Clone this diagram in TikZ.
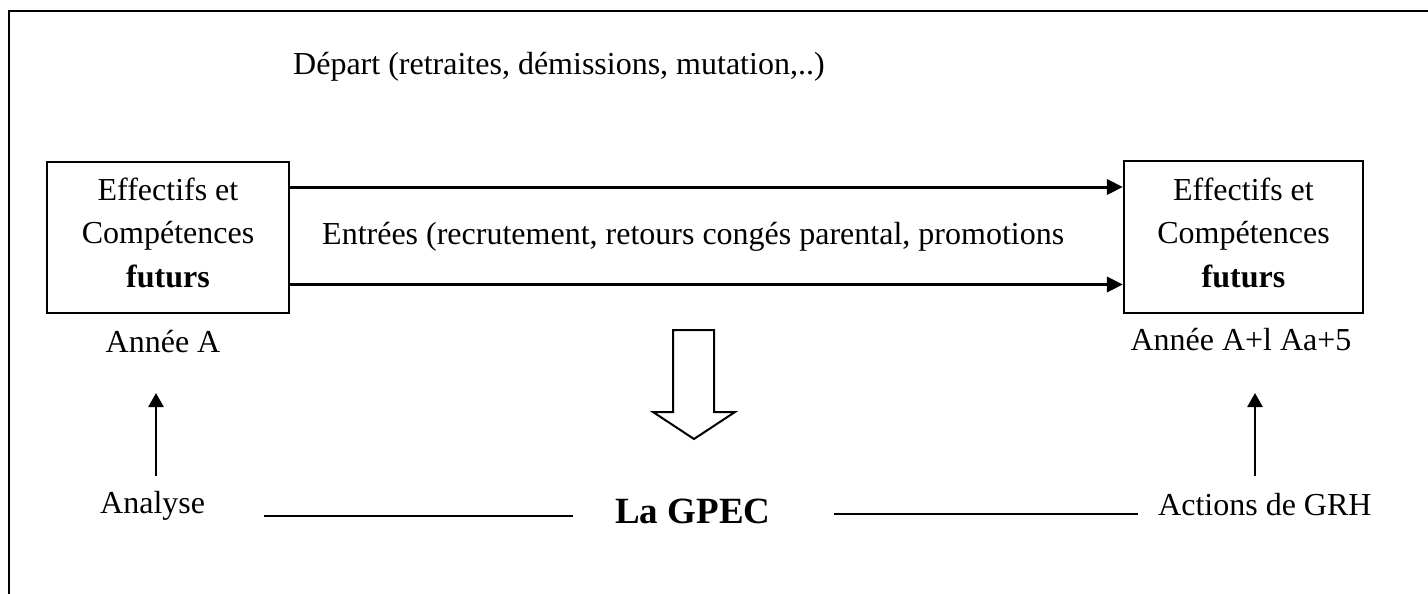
\documentclass[tikz,border=0pt]{standalone}
\usepackage{fontspec}
\setmainfont{Liberation Serif}
\usetikzlibrary{arrows.meta}
\begin{document}
\begin{tikzpicture}[x=1pt,y=-1pt,
  every node/.style={inner sep=0pt, font=\fontsize{32}{43.5}\selectfont},
  framebox/.style={draw, line width=2.2pt, minimum width=242pt, minimum height=151pt},
  boxtext/.style={align=center, anchor=base},
  flow/.style={line width=3pt, -{Triangle[length=16pt,width=15pt]}},
  uparrow/.style={line width=2.6pt, -{Triangle[length=14pt,width=15pt]}},
  rule/.style={line width=2.8pt},
  bigarrow/.style={draw, line width=2pt, line join=miter}]
\useasboundingbox (0,0) rectangle (1428,594);

% outer frame (top and left edges)
\draw[line width=2.6pt] (1428,11) -- (9,11) -- (9,594);

% top label
\node[anchor=base west] (depart) at (293,75) {Départ (retraites, démissions, mutation,..)};

% the two staff boxes
\node[framebox] (lbox) at (168,237.5) {};
\node[framebox, minimum width=239pt, minimum height=152pt] (rbox) at (1243.5,237) {};
\node[boxtext] (ltext) at (168,287) {Effectifs et\\Compétences\\\textbf{futurs}};
\node[boxtext] (rtext) at (1243.5,287) {Effectifs et\\Compétences\\\textbf{futurs}};

% flows between the boxes
\coordinate (yTop) at (0,187);
\coordinate (yBot) at (0,284.5);
\draw[flow] (lbox.east |- yTop) -- (rbox.west |- yTop);
\draw[flow] (lbox.east |- yBot) -- (rbox.west |- yBot);
\node[anchor=base west] (entrees) at (322,244) {Entrées (recrutement, retours congés parental, promotions};

% years
\node[anchor=base] (anneeA) at (163,352) {Année A};
\node[anchor=base] (anneeB) at (1241,350) {Année A+l Aa+5};

% hollow arrow pointing to the GPEC
\draw[bigarrow] (673,330) -- (714,330) -- (714,412) -- (735,412) -- (694,439)
  -- (653,412) -- (673,412) -- cycle;

% bottom row
\node[anchor=base west] (analyse) at (100,513) {Analyse};
\node[anchor=base west, font=\fontsize{37}{44}\selectfont\bfseries] (gpec) at (615,523) {La GPEC};
\node[anchor=base west] (actions) at (1158,515) {Actions de GRH};

\coordinate (yRule) at (0,516);
\coordinate (yRuleR) at (0,514);
\draw[rule, shorten <=59pt, shorten >=42pt] (analyse.east |- yRule) -- (gpec.west |- yRule);
\draw[rule, shorten <=63pt, shorten >=20pt] (gpec.east |- yRuleR) -- (actions.west |- yRuleR);

% upward arrows
\coordinate (aFoot) at (156,476);
\coordinate (aTip) at (156,393);
\coordinate (gFoot) at (1255,476);
\coordinate (gTip) at (1255,393);
\draw[uparrow] (aFoot) -- (aTip);
\draw[uparrow] (gFoot) -- (gTip);
\end{tikzpicture}
\end{document}
